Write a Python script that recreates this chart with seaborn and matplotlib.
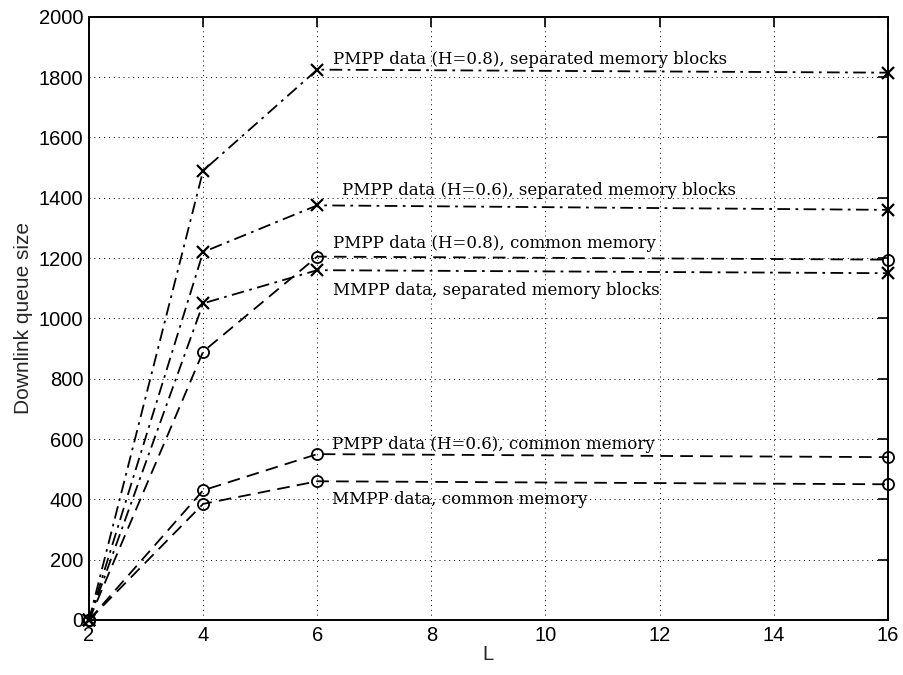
import numpy as np
import pandas as pd
import matplotlib
matplotlib.use("Agg")
import matplotlib.pyplot as plt
import seaborn as sns

# ---- data ----
L = [2, 4, 6, 16]

pmpp08_sep = [0, 1490, 1825, 1815]
pmpp06_sep = [0, 1220, 1375, 1360]
mmpp_sep = [0, 1050, 1160, 1150]
pmpp08_com = [0, 890, 1205, 1195]
pmpp06_com = [0, 430, 550, 540]
mmpp_com = [0, 385, 460, 450]

label_text = [
    "PMPP data (H=0.8), separated memory blocks",
    "PMPP data (H=0.6), separated memory blocks",
    "PMPP data (H=0.8), common memory",
    "MMPP data, separated memory blocks",
    "PMPP data (H=0.6), common memory",
    "MMPP data, common memory",
]
label_x = [6.28, 6.43, 6.28, 6.28, 6.26, 6.26]
label_y = [1857, 1423, 1247, 1091, 583, 398]

x_ticks = [2, 4, 6, 8, 10, 12, 14, 16]
y_ticks = list(range(0, 2001, 200))

sns.set_style("white")
plt.rcParams["font.family"] = ["Liberation Sans", "DejaVu Sans"]

fig = plt.figure(figsize=(9.04, 6.75), dpi=100)
ax = fig.add_axes([0.0985, 0.0815, 0.8835, 0.8935])

dashdot = (0, (7, 3, 1.5, 3))
dashed = (0, (7, 4))

sep_series = [pmpp08_sep, pmpp06_sep, mmpp_sep]
com_series = [pmpp08_com, pmpp06_com, mmpp_com]

for vals in sep_series:
    sns.lineplot(x=L, y=vals, ax=ax, color="black", linewidth=1.3,
                 linestyle=dashdot, marker="x", markersize=9,
                 markeredgecolor="black", markeredgewidth=1.6,
                 estimator=None, clip_on=False)
for vals in com_series:
    sns.lineplot(x=L, y=vals, ax=ax, color="black", linewidth=1.3,
                 linestyle=dashed, marker="o", markersize=8,
                 markerfacecolor="none", markeredgecolor="black",
                 markeredgewidth=1.3, estimator=None, clip_on=False)

for txt, tx, ty in zip(label_text, label_x, label_y):
    ax.text(tx, ty, txt, fontsize=12, family="DejaVu Serif",
            va="center", ha="left", color="black")

ax.set_xlim(2, 16)
ax.set_ylim(0, 2000)
ax.set_xticks(x_ticks)
ax.set_yticks(y_ticks)
ax.grid(True, color="black", linestyle=(0, (1, 4)), linewidth=0.7)
ax.tick_params(direction="in", length=7, width=1.2, top=True, right=True,
               labelsize=14.5, pad=4, colors="black")
for s in ax.spines.values():
    s.set_linewidth(1.4)
    s.set_color("black")

ax.set_xlabel("L", fontsize=14.5, labelpad=0)
ax.set_ylabel("Downlink queue size", fontsize=15, labelpad=4)

fig.savefig("out.png", dpi=100)
